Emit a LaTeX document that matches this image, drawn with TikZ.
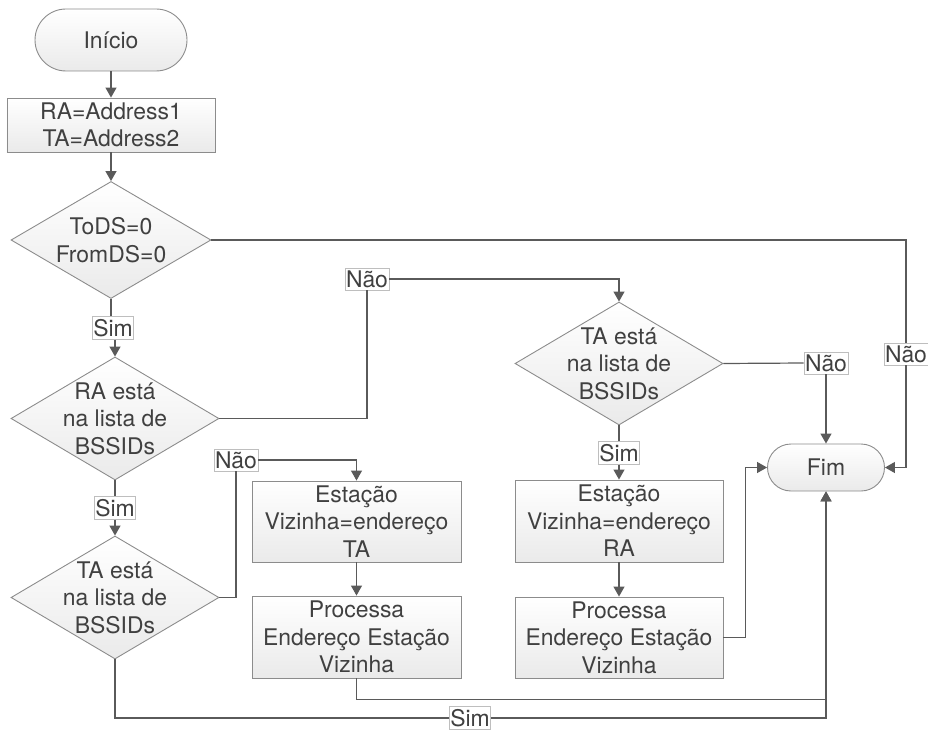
\documentclass[tikz,border=0pt]{standalone}
\usepackage{fontspec}
\setmainfont{TeX Gyre Heros}
\usepackage{tikz}
\usetikzlibrary{shapes.geometric, arrows.meta, calc}

\definecolor{linecol}{HTML}{5A5A5A}
\definecolor{bordcol}{HTML}{8C8C8C}
\definecolor{textcol}{HTML}{404040}
\definecolor{shadecol}{HTML}{EAEAEA}
\definecolor{tagcol}{HTML}{BEBEBE}

\tikzset{
  base/.style={draw=bordcol, line width=0.9bp, top color=white, bottom color=shadecol,
    text=textcol, font=\fontsize{23}{27.5}\selectfont, align=center, inner sep=0pt},
  terminal/.style={base, rectangle, rounded corners=#1},
  process/.style={base, rectangle},
  decision/.style={base, diamond},
  dtext/.style={text=textcol, font=\fontsize{23}{27.5}\selectfont, align=center, inner sep=0pt},
  tag/.style={draw=tagcol, line width=0.7bp, fill=white, text=textcol,
    font=\fontsize{23}{27.5}\selectfont, inner xsep=1bp, inner ysep=2.5bp},
  flow/.style={draw=linecol, line width=1.2bp}
}

\begin{document}
\begin{tikzpicture}[x=1bp, y=-1bp, >={Triangle[length=10bp,width=11bp]}]
\useasboundingbox (0,0) rectangle (928,731);
%%
  % Node: ini
  \node[terminal=31bp, minimum width=152bp, minimum height=62bp] (ini) at (111,40) {Início};
  % Node: addr
  \node[process, minimum width=208bp, minimum height=54bp] (addr) at (111,125) {RA=Address1\\TA=Address2};
  % Node: d1
  \node[decision, minimum width=200bp, minimum height=117bp,
    label={[dtext]center:ToDS=0\\FromDS=0}] (d1) at (111,240) {};
  % Node: d2
  \node[decision, minimum width=208bp, minimum height=123bp,
    label={[dtext]center:RA está\\na lista de\\BSSIDs}] (d2) at (115,418.5) {};
  % Node: d3
  \node[decision, minimum width=208bp, minimum height=123bp,
    label={[dtext]center:TA está\\na lista de\\BSSIDs}] (d3) at (115,597.5) {};
  % Node: e1
  \node[process, minimum width=209bp, minimum height=81bp] (e1) at (356.5,521.5) {Estação\\Vizinha=endereço\\TA};
  % Node: p1
  \node[process, minimum width=209bp, minimum height=82bp] (p1) at (356.5,637) {Processa\\Endereço Estação\\Vizinha};
  % Node: d4
  \node[decision, minimum width=208bp, minimum height=123bp,
    label={[dtext]center:TA está\\na lista de\\BSSIDs}] (d4) at (619,363.5) {};
  % Node: e2
  \node[process, minimum width=208bp, minimum height=82bp] (e2) at (619,521) {Estação\\Vizinha=endereço\\RA};
  % Node: p2
  \node[process, minimum width=208bp, minimum height=81bp] (p2) at (619,637.5) {Processa\\Endereço Estação\\Vizinha};
  % Node: fim
  \node[terminal=23.5bp, minimum width=117bp, minimum height=47bp] (fim) at (826,467.5) {Fim};
%
  % Tags
  \node[tag] (s1) at (113,328) {Sim};
  \node[tag] (s2) at (115,508) {Sim};
  \node[tag] (s4) at (619,453) {Sim};
  \node[tag] (s5) at (470,718) {Sim};
  \node[tag] (n1) at (367,279) {Não};
  \node[tag] (n3) at (236,460) {Não};
  \node[tag] (n4) at (826,363) {Não};
  \node[tag] (n5) at (906,354) {Não};
%
  % Edge: ini -- addr -- d1
  \draw[flow, ->] (ini) -- (addr);
  \draw[flow, ->] (addr) -- (d1);
  % Edge: d1 -- d2
  \draw[flow] (d1.south) -- (d1.south |- s1.north);
  \draw[flow, ->] (d2.north |- s1.south) -- (d2.north);
  % Edge: d2 -- d3
  \draw[flow] (d2.south) -- (s2.north);
  \draw[flow, ->] (s2.south) -- (d3.north);
  % Edge: d1 -- fim
  \draw[flow] (d1.east) -| (n5.north);
  \draw[flow, ->] (n5.south) |- (fim.east);
  % Edge: d2 -- d4
  \draw[flow] (d2.east) -| (n1.south);
  \draw[flow, ->] (n1.east) -| (d4.north);
  % Edge: d3 -- e1
  \draw[flow] (d3.east) -| (n3.south);
  \draw[flow, ->] (n3.east) -| (e1.north);
  % Edge: d3 -- fim
  \draw[flow] (d3.south) |- (s5.west);
  \draw[flow, ->] (s5.east) -| (fim.south);
  % Edge: e1 -- p1 -- fim
  \draw[flow, ->] (e1) -- (p1);
  \draw[flow, ->] (p1.south) -- ++(0,21) -| (fim.south);
  % Edge: d4 -- fim
  \draw[flow] (d4.east) -- (n4.west);
  \draw[flow, ->] (n4.south) -- (fim.north);
  % Edge: d4 -- e2 -- p2 -- fim
  \draw[flow] (d4.south) -- (s4.north);
  \draw[flow, ->] (s4.south) -- (e2.north);
  \draw[flow, ->] (e2) -- (p2);
  \draw[flow, ->] (p2.east) -- ++(22,0) |- (fim.west);
%
\end{tikzpicture}
\end{document}
